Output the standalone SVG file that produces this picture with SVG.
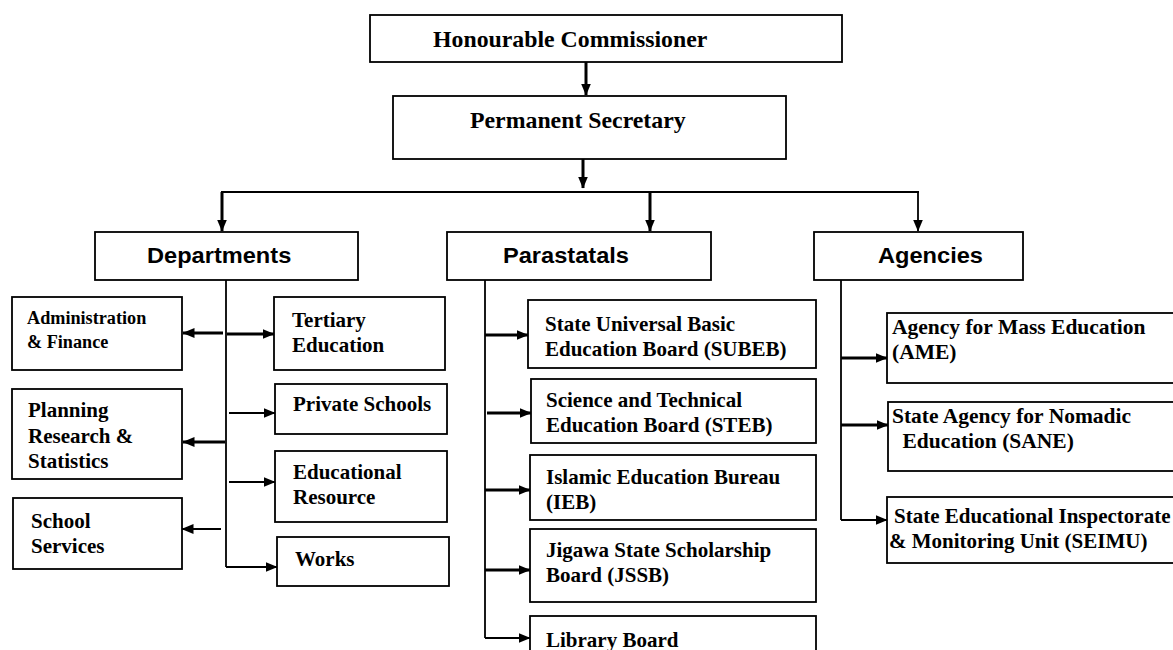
<svg xmlns="http://www.w3.org/2000/svg" width="1173" height="650" viewBox="0 0 1173 650">
<style>
  .box { fill: #fff; stroke: #000; stroke-width: 1.8; }
  .t { font-family: "Liberation Serif", "Times New Roman", serif; font-weight: bold; fill: #000; }
  .top { font-size: 23.8px; }
  .sm { font-size: 21px; }
  .ag { font-size: 21.5px; }
  .xs { font-size: 18.2px; }
  .h { font-family: "Liberation Sans", Arial, sans-serif; font-weight: bold; font-size: 22.5px; fill: #000; }
  .thick { stroke: #000; stroke-width: 3; fill: none; }
  .thin { stroke: #000; stroke-width: 1.8; fill: none; }
  .ah { marker-end: url(#arrow); }
</style>
<defs>
  <marker id="arrow" viewBox="0 0 12 10" refX="11.5" refY="5" markerWidth="12" markerHeight="10" markerUnits="userSpaceOnUse" orient="auto">
    <path d="M0,0 L12,5 L0,10 z" fill="#000"/>
  </marker>
</defs>
<rect width="1173" height="650" fill="#fff"/>

<g id="connectors">
  <line class="thick ah" x1="586" y1="62" x2="586" y2="95"/>
  <line class="thick ah" x1="583" y1="159" x2="583" y2="188"/>
  <line class="thin" x1="221" y1="192" x2="919" y2="192"/>
  <line class="thick ah" x1="222" y1="192" x2="222" y2="231"/>
  <line class="thick ah" x1="650" y1="192" x2="650" y2="231"/>
  <line class="thin ah" x1="918" y1="192" x2="918" y2="231"/>
  <!-- Departments -->
  <line class="thin" x1="226" y1="280" x2="226" y2="567"/>
  <line class="thick ah" x1="223" y1="333" x2="183" y2="333"/>
  <line class="thick ah" x1="227" y1="334" x2="274" y2="334"/>
  <line class="thin ah" x1="229" y1="413" x2="275" y2="413"/>
  <line class="thick ah" x1="225" y1="442" x2="183" y2="442"/>
  <line class="thin ah" x1="229" y1="482" x2="275" y2="482"/>
  <line class="thin ah" x1="221" y1="529" x2="182" y2="529"/>
  <line class="thin ah" x1="226" y1="567" x2="277" y2="567"/>
  <!-- Parastatals -->
  <line class="thin" x1="485" y1="280" x2="485" y2="638"/>
  <line class="thick ah" x1="485" y1="335" x2="528" y2="335"/>
  <line class="thick ah" x1="487" y1="413" x2="531" y2="413"/>
  <line class="thick ah" x1="485" y1="490" x2="530" y2="490"/>
  <line class="thick ah" x1="485" y1="570" x2="530" y2="570"/>
  <line class="thin ah" x1="485" y1="638" x2="530" y2="638"/>
  <!-- Agencies -->
  <line class="thin" x1="841" y1="280" x2="841" y2="520"/>
  <line class="thick ah" x1="841" y1="358" x2="887" y2="358"/>
  <line class="thick ah" x1="841" y1="425" x2="888" y2="425"/>
  <line class="thin ah" x1="841" y1="520" x2="887" y2="520"/>
</g>

<g id="commissioner">
  <rect class="box" x="370" y="15" width="472" height="47"/>
  <text class="t top" x="433" y="47">Honourable Commissioner</text>
</g>
<g id="secretary">
  <rect class="box" x="393" y="96" width="393" height="63"/>
  <text class="t top" x="470" y="128">Permanent Secretary</text>
</g>
<g id="departments">
  <rect class="box" x="95" y="232" width="263" height="48"/>
  <text class="h" transform="translate(147,263) scale(1.05,1)">Departments</text>
</g>
<g id="parastatals">
  <rect class="box" x="447" y="232" width="264" height="48"/>
  <text class="h" transform="translate(503,263) scale(1.05,1)">Parastatals</text>
</g>
<g id="agencies">
  <rect class="box" x="814" y="232" width="209" height="48"/>
  <text class="h" transform="translate(878,263) scale(1.05,1)">Agencies</text>
</g>

<g id="admin">
  <rect class="box" x="12" y="297" width="170" height="73"/>
  <text class="t xs"><tspan x="27" y="324">Administration</tspan><tspan x="27" y="348">&amp; Finance</tspan></text>
</g>
<g id="tertiary">
  <rect class="box" x="274" y="297" width="171" height="73"/>
  <text class="t sm"><tspan x="292" y="327">Tertiary</tspan><tspan x="292" y="352">Education</tspan></text>
</g>
<g id="planning">
  <rect class="box" x="12" y="389" width="170" height="90"/>
  <text class="t sm"><tspan x="28" y="417">Planning</tspan><tspan x="28" y="443">Research &amp;</tspan><tspan x="28" y="468">Statistics</tspan></text>
</g>
<g id="private">
  <rect class="box" x="275" y="384" width="172" height="50"/>
  <text class="t sm" x="293" y="411">Private Schools</text>
</g>
<g id="educational">
  <rect class="box" x="275" y="451" width="172" height="71"/>
  <text class="t sm"><tspan x="293" y="479">Educational</tspan><tspan x="293" y="504">Resource</tspan></text>
</g>
<g id="school">
  <rect class="box" x="13" y="498" width="169" height="71"/>
  <text class="t sm"><tspan x="31" y="528">School</tspan><tspan x="31" y="553">Services</tspan></text>
</g>
<g id="works">
  <rect class="box" x="277" y="537" width="172" height="49"/>
  <text class="t sm" x="295" y="566">Works</text>
</g>

<g id="subeb">
  <rect class="box" x="528" y="300" width="288" height="68"/>
  <text class="t sm"><tspan x="545" y="331">State Universal Basic</tspan><tspan x="545" y="356">Education Board (SUBEB)</tspan></text>
</g>
<g id="steb">
  <rect class="box" x="531" y="379" width="285" height="64"/>
  <text class="t sm"><tspan x="546" y="407">Science and Technical</tspan><tspan x="546" y="432">Education Board (STEB)</tspan></text>
</g>
<g id="ieb">
  <rect class="box" x="530" y="455" width="286" height="65"/>
  <text class="t sm"><tspan x="546" y="484">Islamic Education Bureau</tspan><tspan x="546" y="509">(IEB)</tspan></text>
</g>
<g id="jssb">
  <rect class="box" x="530" y="529" width="286" height="73"/>
  <text class="t sm"><tspan x="546" y="557">Jigawa State Scholarship</tspan><tspan x="546" y="582">Board (JSSB)</tspan></text>
</g>
<g id="library">
  <rect class="box" x="530" y="616" width="286" height="40"/>
  <text class="t sm" x="546" y="647">Library Board</text>
</g>

<g id="ame">
  <rect class="box" x="887" y="313" width="293" height="70"/>
  <text class="t ag"><tspan x="892" y="334">Agency for Mass Education</tspan><tspan x="892" y="359">(AME)</tspan></text>
</g>
<g id="sane">
  <rect class="box" x="888" y="402" width="292" height="69"/>
  <text class="t ag"><tspan x="892" y="423">State Agency for Nomadic</tspan><tspan x="897" y="448"> Education (SANE)</tspan></text>
</g>
<g id="seimu">
  <rect class="box" x="887" y="497" width="293" height="66"/>
  <text class="t sm"><tspan x="894" y="523">State Educational Inspectorate</tspan><tspan x="889" y="548">&amp; Monitoring Unit (SEIMU)</tspan></text>
</g>
</svg>
